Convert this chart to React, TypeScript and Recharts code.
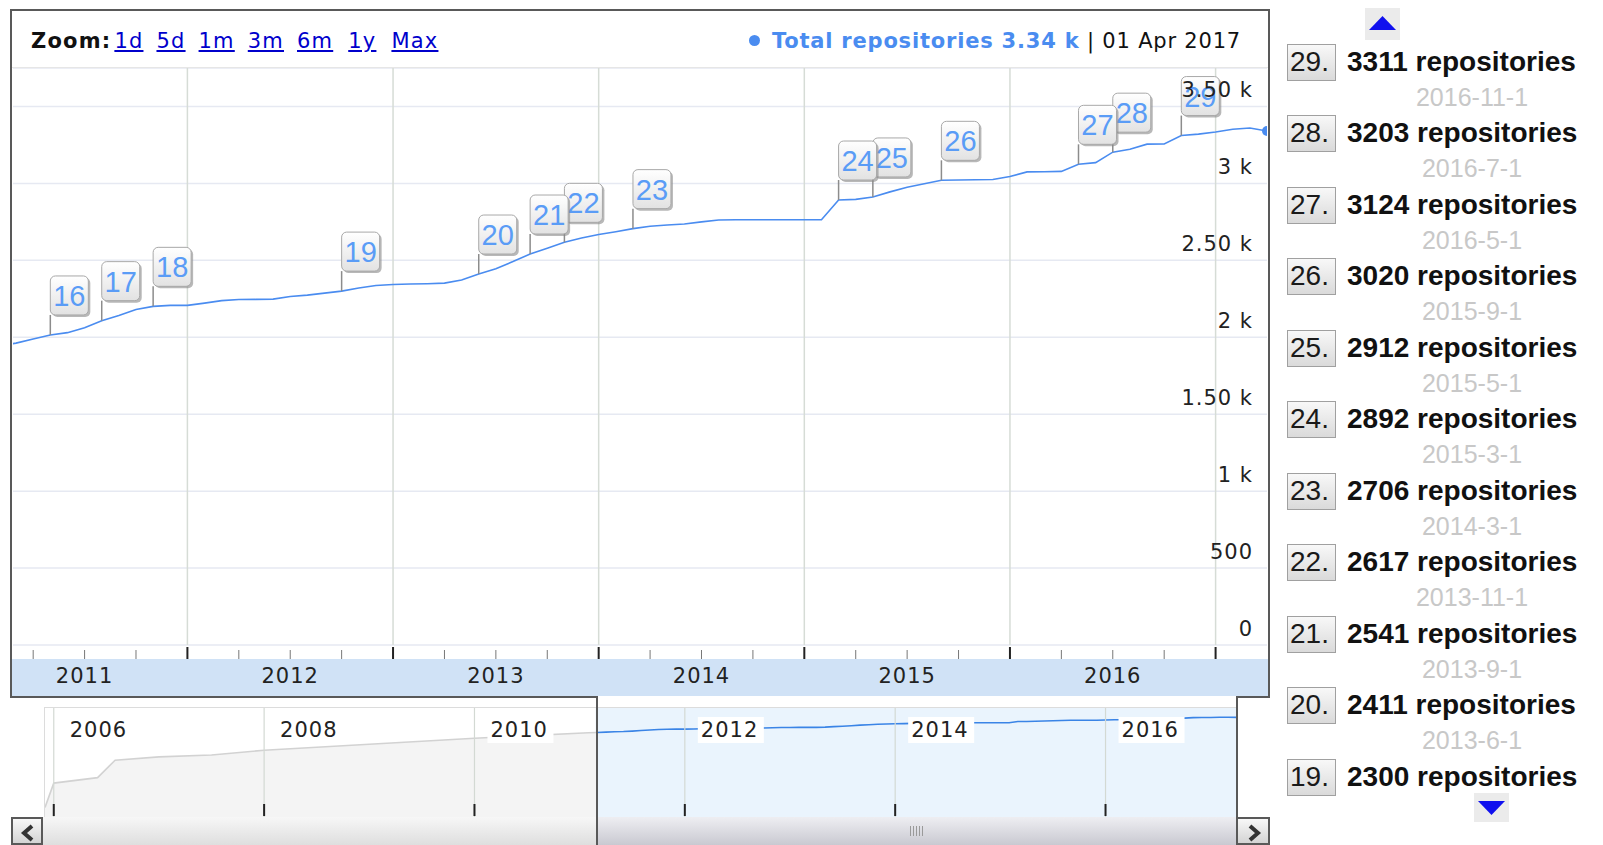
import React from 'react';
import {
  ComposedChart, Line, Area, Scatter, XAxis, YAxis, CartesianGrid,
  ReferenceLine, ReferenceDot, ReferenceArea,
} from 'recharts';

// ---------- data ----------
const seriesStart = '2011-2-1';
const seriesValues = [
  1945, 1962, 1989, 2015, 2030, 2062, 2108, 2141, 2181, 2201, 2207,
  2207, 2222, 2238, 2245, 2246, 2248, 2265, 2274, 2287, 2300, 2320, 2336,
  2343, 2346, 2348, 2352, 2372, 2411, 2446, 2492, 2541, 2578, 2617, 2645,
  2668, 2686, 2706, 2722, 2730, 2736, 2750, 2762, 2764, 2764, 2764, 2764,
  2764, 2764, 2892, 2896, 2912, 2945, 2975, 2998, 3020, 3022, 3024, 3025,
  3045, 3075, 3076, 3078, 3124, 3135, 3203, 3222, 3255, 3256, 3311, 3320,
  3334, 3352, 3360, 3340,
];
const flagNumbers = [16, 17, 18, 19, 20, 21, 22, 23, 24, 25, 26, 27, 28, 29];
const flagDates = [
  '2011-5-1', '2011-8-1', '2011-11-1', '2012-10-1', '2013-6-1', '2013-9-1', '2013-11-1',
  '2014-3-1', '2015-3-1', '2015-5-1', '2015-9-1', '2016-5-1', '2016-7-1', '2016-11-1',
];
const flagValues = [2015, 2108, 2201, 2300, 2411, 2541, 2617, 2706, 2892, 2912, 3020, 3124, 3203, 3311];
const overviewDates = ['2005-12-1', '2006-1-1', '2006-6-1', '2006-8-1', '2007-1-1', '2007-7-1', '2008-1-1', '2009-1-1', '2010-1-1'];
const overviewValues = [140, 330, 400, 740, 830, 890, 1050, 1300, 1600];
const viewRange = ['2011-2-26', '2017-4-1'];
const yTicks = [0, 500, 1000, 1500, 2000, 2500, 3000, 3500];
const yTickLabels = ['0', '500', '1 k', '1.50 k', '2 k', '2.50 k', '3 k', '3.50 k'];
const xYearLabels = ['2011', '2012', '2013', '2014', '2015', '2016'];
const overviewYearLabels = ['2006', '2008', '2010', '2012', '2014', '2016'];
const zoomLinks = ['1d', '5d', '1m', '3m', '6m', '1y', 'Max'];
const seriesName = 'Total repositories';
const lastDateLabel = '01 Apr 2017';
const unitLabel = 'repositories';

// ---------- helpers ----------
const FONT = '"DejaVu Sans", Verdana, sans-serif';
const LFONT = '"Liberation Sans", Arial, sans-serif';
const BLUE = '#4a8cf0';

function monthIndex(s: string) {
  const [y, m, d] = s.split('-').map(Number);
  return (y - 2011) * 12 + (m - 1) + ((d || 1) - 1) / 30.4;
}

const seriesData = seriesValues.map((v, i) => ({ m: monthIndex(seriesStart) + i, v }));
const flagData = flagNumbers
  .map((n, i) => ({ m: monthIndex(flagDates[i]), v: flagValues[i], n }))
  .reverse();
const overviewData = [
  ...overviewDates.map((d, i) => ({ m: monthIndex(d), v: overviewValues[i] })),
  ...seriesData,
];
const viewStart = monthIndex(viewRange[0]);
const viewEnd = monthIndex(viewRange[1]);
const ovStart = overviewData[0].m;
const ovEnd = overviewData[overviewData.length - 1].m;
const splitFrac = (viewStart - ovStart) / (ovEnd - ovStart);

const quarterTicks: number[] = [];
for (let q = Math.ceil(viewStart / 3) * 3; q < viewEnd; q += 3) quarterTicks.push(q);
const yearGrid = xYearLabels.map((y) => monthIndex(`${Number(y) + 1}-1-1`));
const ovYearTicks = overviewYearLabels.map((y) => monthIndex(`${y}-1-1`));

const last = seriesData[seriesData.length - 1];

// ---------- custom renderers ----------
const XTick = (props: any) => {
  const { x, y, payload } = props;
  const m = Math.round(payload.value);
  const major = ((m % 12) + 12) % 12 === 0;
  const labelIdx = (m - 6) / 12;
  const label = Number.isInteger(labelIdx) ? xYearLabels[labelIdx] : null;
  return (
    <g>
      <line x1={x} x2={x} y1={y + (major ? 2 : 5)} y2={y + 14}
        stroke={major ? '#222' : '#777'} strokeWidth={major ? 2 : 1} />
      {label && (
        <text x={x} y={y + 38} textAnchor="middle" fontFamily={FONT} fontSize={21}
          letterSpacing={1} fill="#222">{label}</text>
      )}
    </g>
  );
};

const YTick = (props: any) => {
  const { x, y, payload } = props;
  const idx = yTicks.indexOf(payload.value);
  return (
    <text x={x - 14} y={y - 9} textAnchor="end" fontFamily={FONT} fontSize={21}
      letterSpacing={1} fill="#222">{yTickLabels[idx]}</text>
  );
};

const Flag = (props: any) => {
  const { cx, cy, payload } = props;
  const pole = 20, bw = 38, bh = 39;
  const bx = cx, by = cy - pole - bh;
  return (
    <g>
      <line x1={cx} y1={cy} x2={cx} y2={by + bh} stroke="#8c8c8c" strokeWidth={1.5} />
      <rect x={bx + 2} y={by + 2} width={bw} height={bh} rx={5} fill="#888" opacity={0.6} />
      <rect x={bx} y={by} width={bw} height={bh} rx={5} fill="url(#flagGrad)" stroke="#a8a8a8" />
      <text x={bx + bw / 2} y={by + bh - 9} textAnchor="middle" fontFamily={LFONT}
        fontSize={29} fill="#5a9cf6">{payload.n}</text>
    </g>
  );
};

const OvLabel = (props: any) => {
  const { viewBox, text } = props;
  if (!viewBox) return null;
  const { x, y, height } = viewBox;
  return (
    <g>
      <rect x={x + 13} y={y + 9} width={66} height={26} fill="#fff" />
      <text x={x + 16} y={y + 29} fontFamily={FONT} fontSize={21} letterSpacing={1} fill="#222">{text}</text>
      <line x1={x} x2={x} y1={y + height - 13} y2={y + height - 1} stroke="#222" strokeWidth={2} />
    </g>
  );
};

const Chevron = ({ dir }: { dir: 'l' | 'r' }) => (
  <svg width={31} height={28} style={{ display: 'block' }}>
    <polyline
      points={dir === 'l' ? '19,7 11,14 19,21' : '12,7 20,14 12,21'}
      fill="none" stroke="#333" strokeWidth={4} strokeLinejoin="miter" />
  </svg>
);

const abs = (l: number, t: number, w: number, h: number, extra: React.CSSProperties = {}): React.CSSProperties => ({
  position: 'absolute', left: l, top: t, width: w, height: h, ...extra,
});

export default function App() {
  const listItems = flagNumbers
    .map((n, i) => ({ n, v: flagValues[i], d: flagDates[i] }))
    .reverse()
    .slice(0, 11);
  const DARK = '#595959';

  return (
    <div style={{ position: 'fixed', left: 0, top: 0, width: 1603, height: 845, background: '#fff', overflow: 'hidden' }}>
      {/* axis band */}
      <div style={abs(12, 659, 1256, 37, { background: '#d0e2f6' })} />

      {/* header */}
      <div style={abs(31, 29, 600, 26, { fontFamily: FONT, fontSize: 21, letterSpacing: 1.2, whiteSpace: 'nowrap', lineHeight: '24px' })}>
        <b style={{ color: '#111', marginRight: 3 }}>Zoom:</b>
        {zoomLinks.map((z) => (
          <span key={z} style={{ color: '#0000cc', textDecoration: 'underline', marginRight: z === '6m' || z === '1y' ? 15 : 13 }}>{z}</span>
        ))}
      </div>
      <div style={{ position: 'absolute', right: 1603 - 1241, top: 29, fontFamily: FONT, fontSize: 21, letterSpacing: 0.8, whiteSpace: 'nowrap', lineHeight: '24px' }}>
        <span style={{ display: 'inline-block', width: 11, height: 11, borderRadius: 6, background: BLUE, marginRight: 12, verticalAlign: 2 }} />
        <b style={{ color: BLUE }}>{seriesName} {(last.v / 1000).toFixed(2)} k</b>
        <span style={{ color: '#111' }}> | {lastDateLabel}</span>
      </div>
      <div style={abs(12, 67, 1256, 1, { background: '#e6e6e6' })} />

      {/* main chart */}
      <div style={abs(13, 68, 1254, 627)}>
        <ComposedChart width={1254} height={627} data={seriesData} margin={{ top: 0, right: 0, bottom: 0, left: 0 }}>
          <defs>
            <linearGradient id="flagGrad" x1="0" y1="0" x2="0" y2="1">
              <stop offset="0%" stopColor="#ffffff" />
              <stop offset="100%" stopColor="#e2e2e2" />
            </linearGradient>
          </defs>
          <CartesianGrid vertical={false} stroke="#e6e9f2" strokeWidth={1.5} />
          <XAxis dataKey="m" type="number" domain={[viewStart, viewEnd]} allowDataOverflow
            ticks={quarterTicks} interval={0} tick={<XTick />} tickLine={false} axisLine={false}
            tickSize={0} tickMargin={0} height={50} />
          {yearGrid.map((g) => (
            <ReferenceLine key={g} x={g} stroke="#d6dcd6" strokeWidth={1.5} />
          ))}
          <Line dataKey="v" type="linear" stroke={BLUE} strokeWidth={1.6} dot={false} isAnimationActive={false} />
          <Scatter data={flagData} dataKey="v" shape={<Flag />} isAnimationActive={false} />
          <ReferenceDot x={last.m} y={last.v} r={5} fill={BLUE} stroke="none" />
          <YAxis type="number" domain={[0, 3750]} ticks={yTicks} orientation="right" mirror
            tick={<YTick />} tickLine={false} axisLine={false} tickSize={0} tickMargin={0} allowDataOverflow />
        </ComposedChart>
      </div>

      {/* overview */}
      <div style={abs(44, 707, 1194, 111, { border: '1px solid #dcdcdc', boxSizing: 'border-box' })} />
      <div style={abs(45, 708, 1192, 109)}>
        <ComposedChart width={1192} height={109} data={overviewData} margin={{ top: 0, right: 0, bottom: 0, left: 0 }}>
          <defs>
            <linearGradient id="ovFill" x1="0" y1="0" x2="1" y2="0">
              <stop offset={0} stopColor="#f4f4f4" />
              <stop offset={splitFrac} stopColor="#f4f4f4" />
              <stop offset={splitFrac} stopColor="#eaf4fd" />
              <stop offset={1} stopColor="#eaf4fd" />
            </linearGradient>
            <linearGradient id="ovStroke" x1="0" y1="0" x2="1" y2="0">
              <stop offset={0} stopColor="#d2d2d2" />
              <stop offset={splitFrac} stopColor="#d2d2d2" />
              <stop offset={splitFrac} stopColor="#3a84e6" />
              <stop offset={1} stopColor="#3a84e6" />
            </linearGradient>
          </defs>
          <XAxis dataKey="m" type="number" domain={[ovStart, ovEnd]} hide allowDataOverflow />
          <YAxis type="number" scale="log" domain={[100, 4650]} hide allowDataOverflow />
          <ReferenceArea x1={viewStart} x2={ovEnd} fill="#eaf4fd" fillOpacity={1} stroke="none" />
          <Area dataKey="v" type="linear" stroke="url(#ovStroke)" strokeWidth={1.6} fill="url(#ovFill)" fillOpacity={1} isAnimationActive={false} dot={false} />
          {ovYearTicks.map((t, i) => (
            <ReferenceLine key={t} x={t} stroke="#d3d9d3" strokeWidth={1.2}
              label={<OvLabel text={overviewYearLabels[i]} />} />
          ))}
        </ComposedChart>
      </div>

      {/* scrollbar */}
      <div style={abs(43, 817, 1194, 28, { background: 'linear-gradient(#f7f7f7, #dedede)' })} />
      <div style={abs(597, 817, 640, 28, { background: 'linear-gradient(#eeeef2, #c9c9d1)' })}>
        <div style={{ position: 'absolute', left: 313, top: 9, width: 14, height: 10, background: 'repeating-linear-gradient(90deg, #9a9a9a 0 1px, transparent 1px 3px)' }} />
      </div>
      <div style={abs(11, 817, 32, 28, { border: `2px solid ${DARK}`, boxSizing: 'border-box', background: 'linear-gradient(#f8f8f8, #d4d4d4)' })}>
        <Chevron dir="l" />
      </div>
      <div style={abs(1236, 817, 34, 28, { border: `2px solid ${DARK}`, boxSizing: 'border-box', background: 'linear-gradient(#f8f8f8, #d4d4d4)' })}>
        <Chevron dir="r" />
      </div>

      {/* frame lines */}
      <div style={abs(10, 9, 1260, 2, { background: DARK })} />
      <div style={abs(10, 9, 2, 689, { background: DARK })} />
      <div style={abs(1268, 9, 2, 689, { background: DARK })} />
      <div style={abs(10, 696, 588, 2, { background: DARK })} />
      <div style={abs(1236, 696, 34, 2, { background: DARK })} />
      <div style={abs(596, 696, 2, 149, { background: DARK })} />
      <div style={abs(1236, 696, 2, 121, { background: DARK })} />

      {/* annotation list */}
      <div style={abs(1365, 8, 35, 32, { background: '#ebebeb' })}>
        <svg width={35} height={32}><polygon points="4,22 31,22 17.5,8" fill="#1010ee" /></svg>
      </div>
      <div style={abs(1280, 40, 323, 757, { overflow: 'hidden' })}>
        {listItems.map((it, i) => (
          <div key={it.n} style={{ position: 'absolute', left: 0, top: 4 + i * 71.45, width: 323, height: 71 }}>
            <div style={{ position: 'absolute', left: 7, top: 0, width: 49, height: 37, boxSizing: 'border-box', border: '1px solid #a0a0a0', background: 'linear-gradient(#f8f8f8, #dadada)' }} />
            <div style={{ position: 'absolute', left: 10, top: 18, fontFamily: LFONT, fontSize: 28, color: '#1a1a1a', lineHeight: 0, whiteSpace: 'nowrap' }}>{it.n}.</div>
            <div style={{ position: 'absolute', left: 67, top: 18, fontFamily: LFONT, fontSize: 28, fontWeight: 'bold', color: '#111', lineHeight: 0, whiteSpace: 'nowrap' }}>{it.v} {unitLabel}</div>
            {i < listItems.length - 1 && (
              <div style={{ position: 'absolute', left: 192, width: 0, top: 53, fontFamily: LFONT, fontSize: 25, color: '#c8c8c8', lineHeight: 0, whiteSpace: 'nowrap', display: 'flex', justifyContent: 'center' }}>{it.d}</div>
            )}
          </div>
        ))}
      </div>
      <div style={abs(1474, 793, 35, 29, { background: '#ebebeb' })}>
        <svg width={35} height={29}><polygon points="4,8 31,8 17.5,22" fill="#1010ee" /></svg>
      </div>
    </div>
  );
}
